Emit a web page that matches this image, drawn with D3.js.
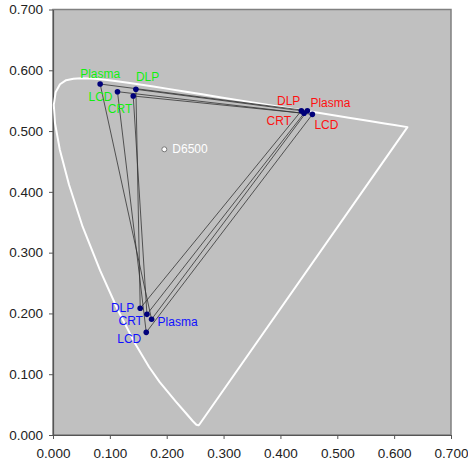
<!DOCTYPE html>
<html>
<head>
<meta charset="utf-8">
<script src="https://cdn.jsdelivr.net/npm/d3@7"></script>
<style>
  body { margin: 0; background: #fff; }
  svg text { font-family: Arial, "Liberation Sans", sans-serif; }
</style>
</head>
<body>
<svg id="chart" width="468" height="466"></svg>
<script>
// CIE 1976 u'v' spectral locus (380 -> 700 nm)
var locusU = [0.2568, 0.2557, 0.2522, 0.2461, 0.2347, 0.2161, 0.1877, 0.1690, 0.1441, 0.1147, 0.0828, 0.0521, 0.0282, 0.0119, 0.0035, 0.0014, 0.0046, 0.0123, 0.0231, 0.0360, 0.0501, 0.0643, 0.0792, 0.0953, 0.1127, 0.1319, 0.1531, 0.1766, 0.2026, 0.2312, 0.2623, 0.2960, 0.3315, 0.3681, 0.4035, 0.4379, 0.4692, 0.5203, 0.5565, 0.5830, 0.6005, 0.6234];
var locusV = [0.0165, 0.0159, 0.0169, 0.0226, 0.0350, 0.0549, 0.0871, 0.1119, 0.1510, 0.2044, 0.2708, 0.3427, 0.4117, 0.4698, 0.5131, 0.5432, 0.5638, 0.5770, 0.5837, 0.5861, 0.5868, 0.5865, 0.5856, 0.5841, 0.5821, 0.5796, 0.5766, 0.5732, 0.5694, 0.5651, 0.5604, 0.5554, 0.5501, 0.5446, 0.5393, 0.5342, 0.5296, 0.5219, 0.5165, 0.5125, 0.5099, 0.5065];

// display primaries, order: Plasma, LCD, DLP, CRT
var displays = ["Plasma", "LCD", "DLP", "CRT"];
var redU = [0.4474, 0.4562, 0.4368, 0.4415];
var redV = [0.5334, 0.5275, 0.5334, 0.5292];
var greenU = [0.0829, 0.1134, 0.1458, 0.1411];
var greenV = [0.5774, 0.5648, 0.5687, 0.5577];
var blueU = [0.1734, 0.1640, 0.1534, 0.1652];
var blueV = [0.1903, 0.1689, 0.2084, 0.1985];

var whiteName = "D6500";
var whiteU = 0.1958, whiteV = 0.4700;

var ticks = [0, 0.1, 0.2, 0.3, 0.4, 0.5, 0.6, 0.7];

//LAYOUT
var margin = { top: 9.5, left: 53, right: 17, bottom: 31 };
var width = 468 - margin.left - margin.right;
var height = 466 - margin.top - margin.bottom;

var svg = d3.select("#chart");
var g = svg.append("g")
	.attr("transform", "translate(" + margin.left + "," + margin.top + ")");

var xScale = d3.scaleLinear().domain([0, 0.7]).range([0, width]);
var yScale = d3.scaleLinear().domain([0, 0.7]).range([height, 0]);

//plot area
g.append("rect")
	.attr("width", width)
	.attr("height", height)
	.attr("fill", "#c0c0c0")
	.attr("stroke", "#808080")
	.attr("stroke-width", 1.5);

//axes
var xAxis = d3.axisBottom(xScale).tickValues(ticks).tickFormat(d3.format(".3f")).tickSize(4).tickSizeOuter(0);
var yAxis = d3.axisLeft(yScale).tickValues(ticks).tickFormat(d3.format(".3f")).tickSize(4).tickSizeOuter(0);

var gx = g.append("g")
	.attr("transform", "translate(0," + height + ")")
	.call(xAxis);
var gy = g.append("g").call(yAxis);

[gx, gy].forEach(a => {
	a.select(".domain").attr("stroke", "#555").attr("stroke-width", 1.2);
	a.selectAll(".tick line").attr("stroke", "#555");
	a.selectAll(".tick text")
		.attr("fill", "#222")
		.style("font-size", "13.5px")
		.style("font-family", "Arial, 'Liberation Sans', sans-serif");
});
gx.selectAll(".tick text").attr("dy", "1.15em");
gy.selectAll(".tick text").attr("x", -10);

//spectral locus, closed by the purple line
var locus = locusU.map((u, i) => [u, locusV[i]]);
g.append("path")
	.datum(locus)
	.attr("d", d3.line().x(d => xScale(d[0])).y(d => yScale(d[1])).curve(d3.curveLinearClosed))
	.attr("fill", "none")
	.attr("stroke", "#fff")
	.attr("stroke-width", 2)
	.attr("stroke-linejoin", "round");

//gamut triangles
var tri = displays.map((name, i) => ({
	name: name,
	pts: [[redU[i], redV[i]], [greenU[i], greenV[i]], [blueU[i], blueV[i]]]
}));

g.selectAll("path.tri")
	.data(tri)
	.enter()
	.append("path")
	.attr("class", "tri")
	.attr("d", d => d3.line().x(p => xScale(p[0])).y(p => yScale(p[1])).curve(d3.curveLinearClosed)(d.pts))
	.attr("fill", "none")
	.attr("stroke", "#333")
	.attr("stroke-width", 0.8);

var allPts = [];
tri.forEach(d => d.pts.forEach(p => allPts.push(p)));

g.selectAll("circle.prim")
	.data(allPts)
	.enter()
	.append("circle")
	.attr("class", "prim")
	.attr("cx", d => xScale(d[0]))
	.attr("cy", d => yScale(d[1]))
	.attr("r", 2.8)
	.attr("fill", "#00007a");

//labels: offsets from the dot, per colour, per display (Plasma, LCD, DLP, CRT)
var labelOff = {
	red:   [[3, -4, "start"], [2, 15, "start"], [-1, -6, "end"], [-13, 12, "end"]],
	green: [[0, -6, "middle"], [-5, 9, "end"], [0, -8, "start"], [-1, 17, "end"]],
	blue:  [[6, 7, "start"], [-5, 11, "end"], [-6, 4, "end"], [-4, 11, "end"]]
};
var labelColor = { red: "#ff1010", green: "#10f010", blue: "#1010ff" };
var prim = { red: [redU, redV], green: [greenU, greenV], blue: [blueU, blueV] };

Object.keys(prim).forEach(c => {
	g.selectAll("text.lab-" + c)
		.data(displays)
		.enter()
		.append("text")
		.attr("class", "lab-" + c)
		.attr("x", (d, i) => xScale(prim[c][0][i]) + labelOff[c][i][0])
		.attr("y", (d, i) => yScale(prim[c][1][i]) + labelOff[c][i][1])
		.attr("text-anchor", (d, i) => labelOff[c][i][2])
		.attr("fill", labelColor[c])
		.style("font-size", "12px")
		.text(d => d);
});

//white point
g.append("circle")
	.attr("cx", xScale(whiteU))
	.attr("cy", yScale(whiteV))
	.attr("r", 2.5)
	.attr("fill", "#fff")
	.attr("stroke", "#777")
	.attr("stroke-width", 1);

g.append("text")
	.attr("x", xScale(whiteU) + 8)
	.attr("y", yScale(whiteV) + 4)
	.attr("fill", "#fff")
	.style("font-size", "12px")
	.text(whiteName);
</script>
</body>
</html>
